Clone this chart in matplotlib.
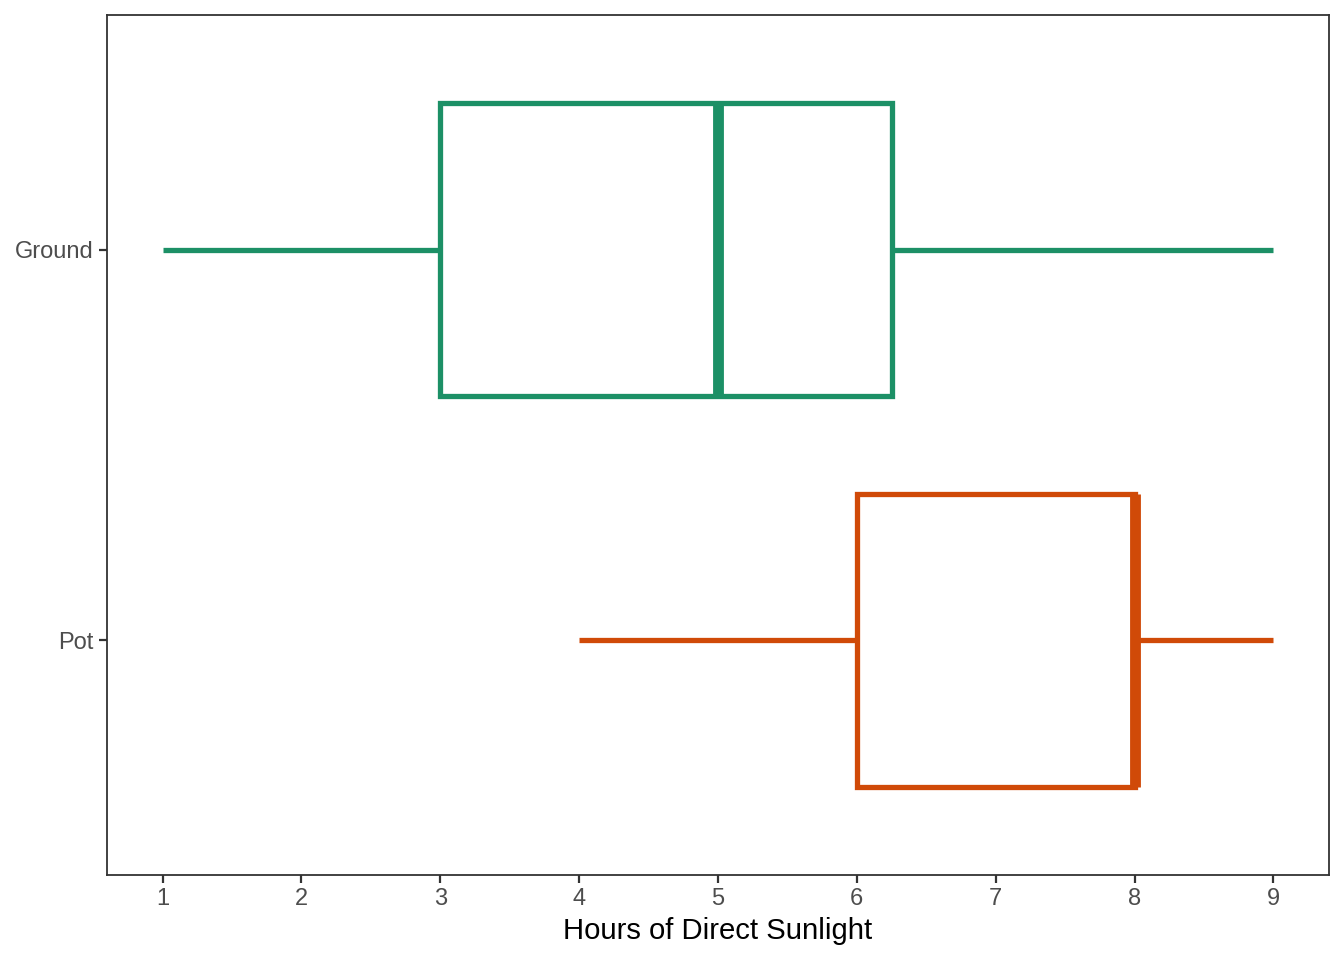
import matplotlib
matplotlib.use("Agg")
import matplotlib.pyplot as plt

categories = ["Pot", "Ground"]
whisker_low = [4, 1]
q1 = [6, 3]
median = [8, 5]
q3 = [8, 6.25]
whisker_high = [9, 9]
colors = ["#D04A08", "#1C9066"]
x_ticks = [1, 2, 3, 4, 5, 6, 7, 8, 9]
x_label = "Hours of Direct Sunlight"

plt.rcParams['font.family'] = ['Liberation Sans', 'DejaVu Sans']

fig = plt.figure(figsize=(13.44, 9.6), dpi=100)
ax = fig.add_axes([107/1344, 1-875/960, (1329-107)/1344, (875-15)/960])

for i, cat in enumerate(categories):
    stats = [dict(med=median[i], q1=q1[i], q3=q3[i], whislo=whisker_low[i],
                  whishi=whisker_high[i], fliers=[], label=cat)]
    c = colors[i]
    ax.bxp(stats, positions=[i + 1], vert=False, widths=0.75, showcaps=False,
           showfliers=False, patch_artist=True,
           boxprops=dict(facecolor="white", edgecolor=c, linewidth=3.8),
           whiskerprops=dict(color=c, linewidth=3.8, solid_capstyle="butt"),
           medianprops=dict(color=c, linewidth=7.8, solid_capstyle="butt"))

ax.set_xlim(0.6, 9.4)
ax.set_ylim(0.4, 2.6)
ax.set_xticks(x_ticks)
ax.set_xticklabels([str(t) for t in x_ticks])
ax.set_yticks([1, 2])
ax.set_yticklabels(categories)
ax.set_xlabel(x_label, fontsize=21.1, color="black", labelpad=5)
ax.tick_params(axis="both", colors="#333333", labelcolor="#4D4D4D",
               labelsize=17, length=5.5, width=1.6, direction="out", pad=4)
for s in ax.spines.values():
    s.set_color("#333333")
    s.set_linewidth(1.3)
ax.grid(False)

fig.savefig("out.png", dpi=100, facecolor="white")
